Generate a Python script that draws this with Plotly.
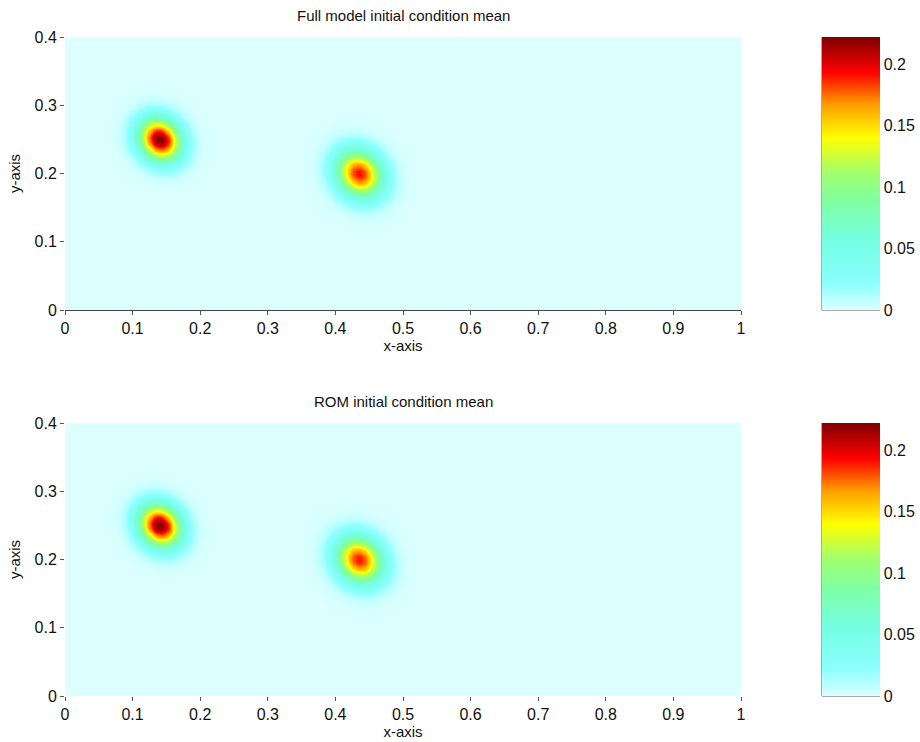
import numpy as np
import plotly.graph_objects as go

# ---- data ----
titles = ["Full model initial condition mean", "ROM initial condition mean"]
blob_x = [0.14, 0.435]          # blob centres (x)
blob_y = [0.25, 0.20]           # blob centres (y)
full_peak = [0.222, 0.192]      # peak values, full model
rom_peak = [0.222, 0.190]       # peak values, ROM
blob_sigma = [0.022, 0.024]     # blob widths
blob_tilt = [-0.15, -0.15]      # slight NW-SE elongation
x_ticks = [0, 0.1, 0.2, 0.3, 0.4, 0.5, 0.6, 0.7, 0.8, 0.9, 1]
y_ticks = [0, 0.1, 0.2, 0.3, 0.4]
cbar_ticks = [0, 0.05, 0.1, 0.15, 0.2]
zmax = 0.222

xg = np.linspace(0, 1, 301)
yg = np.linspace(0, 0.4, 121)
X, Y = np.meshgrid(xg, yg)


def field(peaks):
    Z = np.zeros_like(X)
    for cx, cy, p, s, r in zip(blob_x, blob_y, peaks, blob_sigma, blob_tilt):
        dx = (X - cx) / s
        dy = (Y - cy) / s
        q = (dx ** 2 - 2 * r * dx * dy + dy ** 2) / (1 - r ** 2)
        Z += p * np.exp(-0.5 * q)
    return Z


colorscale = [
    [0.00, "#dcffff"],
    [0.10, "#8cffff"],
    [0.25, "#74ffe4"],
    [0.40, "#80ffa0"],
    [0.50, "#a0ff70"],
    [0.63, "#ffff00"],
    [0.75, "#ffa000"],
    [0.87, "#ff0000"],
    [1.00, "#800000"],
]

font = "Liberation Sans, Arial, sans-serif"
FS = 16
W, Hfig = 920, 742
L, R, T, B = 65, 179, 37, 46
PW = W - L - R
H = float(Hfig - T - B)
dom_top = [1 - 273 / H, 1.0]
dom_bot = [0.0, 273 / H]
cb_x0 = (822 - L) / PW
cb_x1 = (880 - L) / PW

fig = go.Figure()
for i, (peaks, dom) in enumerate([(full_peak, dom_top), (rom_peak, dom_bot)]):
    xa = "x" if i == 0 else "x2"
    ya = "y" if i == 0 else "y2"
    fig.add_trace(go.Heatmap(
        x=xg, y=yg, z=field(peaks), zmin=0, zmax=zmax,
        colorscale=colorscale, zsmooth="best", xaxis=xa, yaxis=ya,
        colorbar=dict(
            x=cb_x0, xanchor="left", thickness=58, thicknessmode="pixels",
            len=273 / H, lenmode="fraction", xpad=0, ypad=0,
            y=dom[1] if i == 0 else dom[0], yanchor="top" if i == 0 else "bottom",
            tickvals=cbar_ticks, ticktext=["0", "0.05", "0.1", "0.15", "0.2"],
            ticks="", outlinewidth=0,
            tickfont=dict(family=font, size=FS, color="#111"),
        ),
    ))

axis_common = dict(showgrid=False, zeroline=False, ticks="outside", ticklen=4,
                   tickcolor="#555", tickfont=dict(family=font, size=FS, color="#111"))
tfont = dict(family=font, size=FS - 1, color="#111")
fig.update_layout(
    width=W, height=Hfig, paper_bgcolor="white", plot_bgcolor="white",
    margin=dict(l=L, r=R, t=T, b=B, autoexpand=False), showlegend=False,
    xaxis=dict(domain=[0, 1], anchor="y", range=[0, 1], tickvals=x_ticks,
               ticktext=[str(v) for v in x_ticks], showline=True, linecolor="#444",
               linewidth=1, title=dict(text="x-axis", font=tfont, standoff=2),
               **axis_common),
    yaxis=dict(domain=dom_top, anchor="x", range=[0, 0.4], tickvals=y_ticks,
               ticktext=[str(v) for v in y_ticks], showline=False,
               title=dict(text="y-axis", font=tfont, standoff=10),
               **axis_common),
    xaxis2=dict(domain=[0, 1], anchor="y2", range=[0, 1], tickvals=x_ticks,
                ticktext=[str(v) for v in x_ticks], showline=False,
                title=dict(text="x-axis", font=tfont, standoff=2),
                **axis_common),
    yaxis2=dict(domain=dom_bot, anchor="x2", range=[0, 0.4], tickvals=y_ticks,
                ticktext=[str(v) for v in y_ticks], showline=False,
                title=dict(text="y-axis", font=tfont, standoff=10),
                **axis_common),
)

for dom, t in zip([dom_top, dom_bot], titles):
    fig.add_annotation(text=t, x=0.5, y=dom[1], xref="paper", yref="paper",
                       xanchor="center", yanchor="bottom", yshift=11, showarrow=False,
                       font=tfont)
    fig.add_shape(type="line", xref="paper", yref="paper", x0=cb_x0, x1=cb_x0,
                  y0=dom[0], y1=dom[1], line=dict(color="#555", width=1))
    fig.add_shape(type="line", xref="paper", yref="paper", x0=cb_x0, x1=cb_x1,
                  y0=dom[0], y1=dom[0], line=dict(color="#555", width=1))

fig.write_html("out.html", config={"displayModeBar": False},
               post_script="document.body.style.margin='0';document.body.style.overflow='hidden';")
